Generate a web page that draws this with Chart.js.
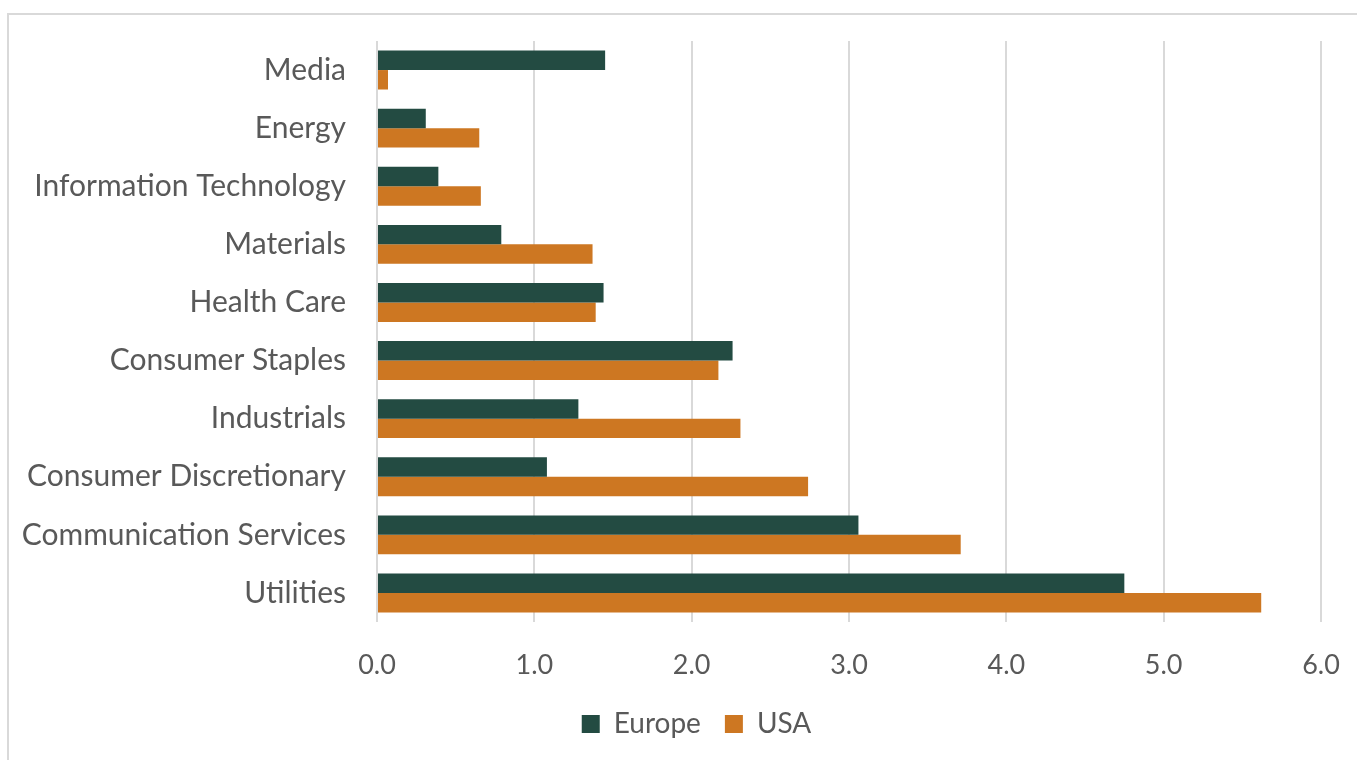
<!DOCTYPE html>
<html>
<head>
<meta charset="utf-8">
<script src="https://cdn.jsdelivr.net/npm/chart.js@4.4.1/dist/chart.umd.min.js"></script>
<style>
  html, body { margin: 0; padding: 0; background: #fff; overflow: hidden; }
  #frame {
    position: absolute; left: 7px; top: 13px;
    width: 1400px; height: 800px;
    border: 2px solid #d9d9d9; box-sizing: border-box;
  }
  #wrap { position: absolute; left: 0; top: 0; width: 1357px; height: 760px; }
</style>
</head>
<body>
<div id="frame"></div>
<div id="wrap"><canvas id="BarChart"></canvas></div>
<script>
(function () {
    "use strict";

    // Sectors, top to bottom
    const sectors = [
        "Media",
        "Energy",
        "Information Technology",
        "Materials",
        "Health Care",
        "Consumer Staples",
        "Industrials",
        "Consumer Discretionary",
        "Communication Services",
        "Utilities",
    ];
    const europe = [1.45, 0.31, 0.39, 0.79, 1.44, 2.26, 1.28, 1.08, 3.06, 4.75];
    const usa = [0.07, 0.65, 0.66, 1.37, 1.39, 2.17, 2.31, 2.74, 3.71, 5.62];
    const xTicks = [0, 1, 2, 3, 4, 5, 6];

    // Colors
    const green_dark = "#234b42";
    const orange = "#cd7722";
    const text_gray = "#595959";
    const grid_gray = "#d9d9d9";

    const fontFamily = "Lato, 'Open Sans', sans-serif";
    Chart.defaults.color = text_gray;
    Chart.defaults.font.family = fontFamily;

    // let layout.padding alone decide where the plot area sits
    function clearPadding(axis) {
        axis.paddingTop = 0;
        axis.paddingBottom = 0;
        axis.paddingLeft = 0;
        axis.paddingRight = 0;
    }

    // legend sits centred under the plot area rather than the whole canvas
    const legendShift = {
        id: "legendShift",
        afterLayout: function (chart) {
            if (chart.legend) {
                chart.legend.left += 36;
                chart.legend.right += 36;
            }
        },
    };

    const ctx = document.getElementById("BarChart").getContext("2d");
    new Chart(ctx, {
        type: "bar",
        data: {
            labels: sectors,
            datasets: [
                {
                    label: "Europe",
                    data: europe,
                    backgroundColor: green_dark,
                    borderWidth: 0,
                },
                {
                    label: "USA",
                    data: usa,
                    backgroundColor: orange,
                    borderWidth: 0,
                },
            ],
        },
        plugins: [legendShift],
        options: {
            indexAxis: "y",
            responsive: true,
            maintainAspectRatio: false,
            animation: false,
            datasets: {
                bar: {
                    barPercentage: 1,
                    categoryPercentage: 0.67,
                },
            },
            layout: {
                padding: { top: 41, right: 36, left: 0, bottom: 12 },
            },
            scales: {
                x: {
                    min: 0,
                    max: 6,
                    afterBuildTicks: function (axis) {
                        axis.ticks = xTicks.map(function (v) {
                            return { value: v };
                        });
                    },
                    afterFit: function (axis) {
                        axis.height = 64;
                        clearPadding(axis);
                    },
                    border: { display: false },
                    grid: {
                        color: grid_gray,
                        lineWidth: 2,
                        drawTicks: false,
                    },
                    ticks: {
                        padding: 27,
                        font: { size: 27 },
                        callback: function (v) {
                            return Number(v).toFixed(1);
                        },
                    },
                },
                y: {
                    afterFit: function (axis) {
                        axis.width = 377;
                        clearPadding(axis);
                    },
                    border: { display: false },
                    grid: { display: false, drawTicks: false },
                    ticks: {
                        padding: 31,
                        font: { size: 30 },
                    },
                },
            },
            plugins: {
                legend: {
                    display: true,
                    position: "bottom",
                    labels: {
                        boxWidth: 18,
                        boxHeight: 18,
                        padding: 24,
                        font: { size: 28 },
                    },
                },
                tooltip: { enabled: false },
            },
        },
    });
})();
</script>
</body>
</html>
